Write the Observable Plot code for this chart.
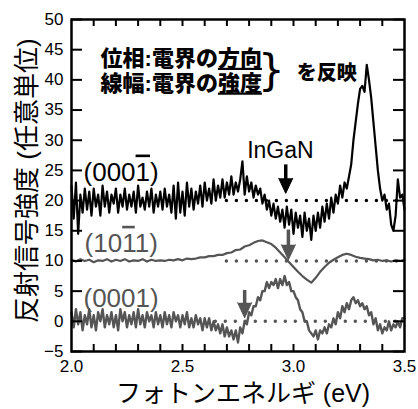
<!DOCTYPE html>
<html><head><meta charset="utf-8">
<script src="https://cdn.jsdelivr.net/npm/d3@7"></script>
<script src="https://cdn.jsdelivr.net/npm/@observablehq/plot@0.6"></script>
<style>
html,body{margin:0;padding:0;background:#fff;}
svg{display:block;}
</style>
</head><body>
<script>
// ---- data ----
const energyStart = 2.0;          // eV
const fineStep = 0.01;            // sampling of the noisy spectra
const coarseStep = 0.02;          // sampling of the (10-11) spectrum

// (000-1) face, offset +20
const s1Values = [
22.5,17,23,14.5,21,18,22,18.5,21.5,17.5,22,19,21,17.5,22.5,19,21.5,18,21,19.5,
22,18,21,19,22,18.5,21,19,21.5,18,22.5,19,20.5,18.5,21.5,19,22,18,21,19,
21.5,18.5,22,19,21,18,22.5,17,23,18,21.5,17.5,23,19,22,18.5,21.5,19.5,22.5,19,
23,20,22,19.5,23.5,20,22.5,20.5,23.5,20.5,23,21,24,21,23,21.5,23.5,26.5,21,24,
21.5,23,20.5,22.5,21,22,19.5,21,18.5,20,17.5,19.5,17,19,16.5,18.5,15.5,19,16,18.5,
14.5,18,15.5,17.5,14,18,15,17,13.5,17.5,15,18,15.5,19,16.5,19.5,17,20.5,18,21,
19.5,22.5,20.5,23,22,24,26,30,33,36,38.5,39,38,42.5,40,37,33,29,25,22,
20,21,18.5,19.5,16,15,17.5,23.5,20.5,21,18.5];

// (10-11) face, offset +10
const s2Values = [
10.2,9.9,10.3,10.0,10.2,9.8,10.1,10.0,10.3,9.9,10.2,10.0,10.3,9.9,10.1,10.0,10.3,9.9,10.2,10.0,
10.1,10.0,10.2,10.1,10.3,10.1,10.4,10.3,10.4,10.6,10.6,10.8,10.8,11.0,11.0,11.3,11.4,11.8,11.9,12.4,
12.6,13.0,13.3,13.4,13.1,12.8,12.2,11.4,10.6,9.8,9.0,8.2,7.5,6.9,6.4,7.2,8.2,9.0,9.7,10.2,
10.6,11.0,11.2,11.0,10.7,10.5,10.4,10.3,10.1,10.2,10.0,10.1,9.9,10.1,10.0,10.2];

// (0001) face, offset 0
const s3Values = [
1.5,-1,2,-0.5,1.5,-1.5,1,-0.5,2,-1,1,-1.5,1.5,0,2,-1,1,-0.5,1.5,-1,
1,-1.5,2,0,1.5,-1,1,-0.5,1.5,-1,2,-0.5,1,-1,1.5,0,1,-1,1.5,-0.5,
1,-1,1.5,-0.5,1,-1,1.5,0,1,-1,1,-0.5,1.5,-1,0.5,-1,1,-0.5,0.5,-1.5,
0.5,-1,0.5,-1.5,0,-1.5,-0.5,-2,-0.5,-2.5,-1,-2.5,-1.5,-3,-1.5,-3.5,-1,-2,0,-0.5,
1.5,1,2.5,2.5,4,3.5,5,5,6.5,5.5,6.5,6,7,5.5,7,6,7.5,6,6.5,5,
5,4,3.5,2,1.5,0,0,-1.5,-2,-2.5,-1.5,-3,-1.5,-2,-1,-2,-0.5,-1,0.5,-0.5,
1.5,0.5,2.5,1.5,3,2,3.5,4,3,3.5,2.5,3,2,2.5,1,1.5,-0.5,0.5,-1.5,-0.5,
-2,-1,-1.5,0,-1.5,-0.5,-1,0,-1,0.5,0.5];

// series labels (U+0305 = overbar on the preceding digit)
const seriesLabels = ["(0001\u0305)", "(101\u03051)", "(0001)"];
const labelX = [2.054, 2.059, 2.054];
const labelY = [24.7, 12.9, 3.8];
const seriesColors = ["#000000", "#555555", "#555555"];

// dotted zero-reference lines
const baseY = [20, 10, 0];
const baseStart = [2.7, 2.7, 2.65];

// arrows (band-gap positions)
const arrowX = [2.965, 2.977, 2.78];
const arrowTop = [26.0, 15.2, 5.2];
const arrowTip = [21.2, 10.2, 0.6];

// axes
const xTickLabels = [2.0, 2.5, 3.0, 3.5];
const xMinorTicks = [2.1,2.2,2.3,2.4,2.5,2.6,2.7,2.8,2.9,3.0,3.1,3.2,3.3,3.4];
const yTickLabels = [-5,0,5,10,15,20,25,30,35,40,45,50];
const xTitle = "フォトンエネルギ (eV)";
const yTitle = "反射信号強度 (任意単位)";

// annotation
const noteLines = ["位相:電界の方向", "線幅:電界の強度"];
const noteUnderlined = ["方向", "強度"];
const noteX = [2.131, 2.131];
const noteY = [43.5, 39.4];
const braceText = "}";
const reflectText = "を反映";
const ingaText = "InGaN";

// ---- tables ----
const s1 = s1Values.map((v, i) => ({x: energyStart + i * fineStep, y: v}));
const s2 = s2Values.map((v, i) => ({x: energyStart + i * coarseStep, y: v}));
const s3 = s3Values.map((v, i) => ({x: energyStart + i * fineStep, y: v}));
const bases = baseY.map((y, i) => ({y, x1: baseStart[i], c: seriesColors[i]}));
const arrows = arrowX.map((x, i) => ({x, top: arrowTop[i], tip: arrowTip[i], c: seriesColors[i]}));
const labels = seriesLabels.map((t, i) => ({t, x: labelX[i], y: labelY[i], c: seriesColors[i]}));
const notes = noteLines.map((t, i) => ({t, x: noteX[i], y: noteY[i]}));

const latin = "'Liberation Sans', Arial, Helvetica, sans-serif";
const cjk = "'Liberation Sans', 'Noto Sans CJK JP', sans-serif";

const chart = Plot.plot({
  width: 418, height: 409,
  marginLeft: 71, marginRight: 14, marginTop: 19, marginBottom: 58,
  x: {domain: [2.0, 3.5], label: null},
  y: {domain: [-5, 50], label: null},
  style: {fontFamily: latin, background: "#fff", overflow: "visible"},
  marks: [
    Plot.ruleY(bases, {y: "y", x1: "x1", x2: 3.5, stroke: "c", strokeWidth: 3.5, strokeDasharray: "0,10", strokeLinecap: "round"}),
    Plot.line(s2, {x: "x", y: "y", stroke: seriesColors[1], strokeWidth: 2.2}),
    Plot.line(s3, {x: "x", y: "y", stroke: seriesColors[2], strokeWidth: 2.4}),
    Plot.line(s1, {x: "x", y: "y", stroke: seriesColors[0], strokeWidth: 2.2}),
    Plot.link(arrows, {x1: "x", x2: "x", y1: "top", y2: d => d.tip + 1.5, stroke: "c", strokeWidth: 3.5}),
    Plot.vector(arrows, {x: "x", y: "tip", length: 15, rotate: 180, shape: "spike", r: 7, anchor: "end", fill: "c", stroke: "c", strokeWidth: 1}),
    Plot.ruleX(xMinorTicks, {insetTop: 325, strokeWidth: 2}),
    Plot.ruleX(xMinorTicks, {insetBottom: 325, strokeWidth: 2}),
    Plot.ruleY(yTickLabels, {insetRight: 322, strokeWidth: 2}),
    Plot.ruleY(yTickLabels, {insetLeft: 322, strokeWidth: 2}),
    Plot.frame({stroke: "#000", strokeWidth: 2.5}),
    Plot.axisX({ticks: xTickLabels, tickSize: 0, tickPadding: 8, tickFormat: d3.format(".1f"), fontSize: 17, label: null, fill: "#000"}),
    Plot.axisY({ticks: yTickLabels, tickSize: 0, tickPadding: 8, tickFormat: d3.format("d"), fontSize: 17, label: null, fill: "#000"}),
    Plot.text(labels, {x: "x", y: "y", text: "t", fill: "c", textAnchor: "start", fontSize: 26, fontFamily: latin}),
    Plot.text([ingaText], {x: 2.941, y: 28.3, text: d => d, fontSize: 23, fill: "#000", fontFamily: latin}),
    Plot.text(notes, {x: "x", y: "y", text: "t", textAnchor: "start", fontSize: 22, fontWeight: 900, fontFamily: cjk, fill: "#000"}),
    Plot.text([braceText], {x: 2.9, y: 41.4, text: d => d, fontSize: 42, fontFamily: "'DejaVu Sans', sans-serif", fill: "#000"}),
    Plot.text([reflectText], {x: 3.015, y: 41.0, text: d => d, textAnchor: "start", fontSize: 20, fontWeight: 900, fontFamily: cjk, fill: "#000"}),
    Plot.text([xTitle], {x: 2.7725, y: -5, dy: 42, textAnchor: "middle", text: d => d, fontSize: 25, fontFamily: cjk, fill: "#000"}),
    Plot.text([yTitle], {x: 2.0, y: 23.3, dx: -44, rotate: -90, textAnchor: "middle", text: d => d, fontSize: 26, fontFamily: cjk, fill: "#000"})
  ]
});

// rich text: overbars (U+0305) and underlines
d3.select(chart).selectAll("text").each(function() {
  const el = d3.select(this);
  const t = this.textContent;
  if (t.includes("\u0305")) {
    const parts = [];
    for (let i = 0; i < t.length; i++) {
      if (t[i] === "\u0305") continue;
      parts.push({ch: t[i], over: t[i + 1] === "\u0305"});
    }
    el.text(null);
    parts.forEach(p => el.append("tspan").text(p.ch).style("text-decoration", p.over ? "overline" : null));
  }
  const k = noteLines.indexOf(t);
  if (k >= 0) {
    const u = noteUnderlined[k];
    const pos = t.indexOf(u);
    el.text(null);
    el.append("tspan").text(t.slice(0, pos));
    el.append("tspan").text(u).style("text-decoration", "underline");
    el.append("tspan").text(t.slice(pos + u.length));
  }
});

document.body.appendChild(chart);
</script>
</body></html>
